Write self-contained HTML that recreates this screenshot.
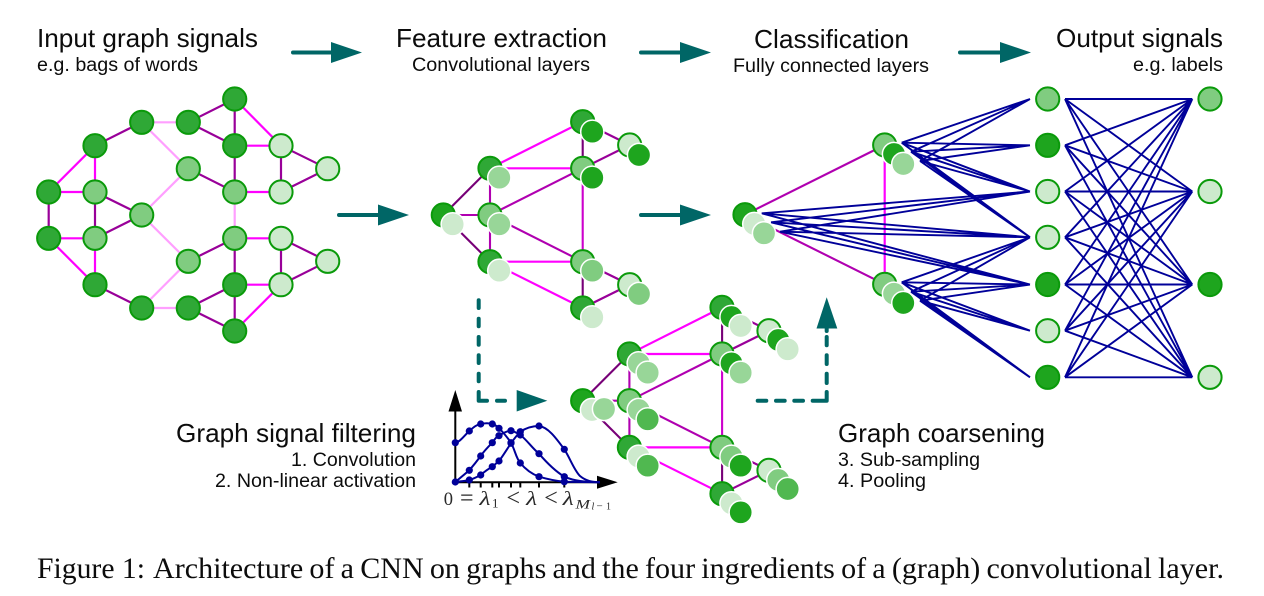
<!DOCTYPE html>
<html><head><meta charset="utf-8"><title>Graph CNN architecture</title>
<style>
html,body{margin:0;padding:0;background:#fff}
svg{display:block}
text{font-family:"Liberation Sans",sans-serif;fill:#0c0c0c}
.s{font-family:"Liberation Serif",serif}
.mt{font-family:"Liberation Serif",serif;fill:#2a2a2a}
.b{stroke:#0a9a0a;stroke-width:2}
.o{stroke:#fff;stroke-width:1.5}
.dk{fill:#2fa836}.dd{fill:#1ea51e}.md{fill:#80cc80}.lt{fill:#cdeacd}.m2{fill:#98d698}.g5{fill:#50b850}
.p{stroke:#990099;stroke-width:2.2;fill:none}
.mg{stroke:#ff00ff;stroke-width:2.2;fill:none}
.lp{stroke:#ff9fff;stroke-width:2.2;fill:none}
.pd{stroke:#770077;stroke-width:2.1;fill:none}
.pm{stroke:#b000b0;stroke-width:2.1;fill:none}
.pc{stroke:#cc00cc;stroke-width:2.1;fill:none}
.tl{stroke:#006666;stroke-width:4;fill:none;stroke-linecap:round}
.da{stroke:#006666;stroke-width:4;fill:none;stroke-linecap:round;stroke-linejoin:round}
.bl{stroke:#000099;stroke-width:1.9;fill:none}
.cv{stroke:#000099;stroke-width:2;fill:none;stroke-linejoin:round}
</style></head><body>
<svg xmlns="http://www.w3.org/2000/svg" width="1264" height="596" viewBox="0 0 1264 596">
<rect width="1264" height="596" fill="#fff"/>

<!-- titles -->
<text x="37" y="47" font-size="26" textLength="221" lengthAdjust="spacingAndGlyphs">Input graph signals</text>
<text x="37" y="71" font-size="19" textLength="161" lengthAdjust="spacingAndGlyphs">e.g. bags of words</text>
<text x="396" y="47" font-size="26" textLength="211" lengthAdjust="spacingAndGlyphs">Feature extraction</text>
<text x="412" y="71" font-size="19" textLength="178" lengthAdjust="spacingAndGlyphs">Convolutional layers</text>
<text x="754" y="48" font-size="26" textLength="155" lengthAdjust="spacingAndGlyphs">Classification</text>
<text x="733" y="72" font-size="19" textLength="196" lengthAdjust="spacingAndGlyphs">Fully connected layers</text>
<text x="1056" y="47" font-size="26" textLength="167" lengthAdjust="spacingAndGlyphs">Output signals</text>
<text x="1133" y="71" font-size="19" textLength="90" lengthAdjust="spacingAndGlyphs">e.g. labels</text>
<text x="176" y="442" font-size="26" textLength="240" lengthAdjust="spacingAndGlyphs">Graph signal filtering</text>
<text x="291" y="466" font-size="19" textLength="125" lengthAdjust="spacingAndGlyphs">1. Convolution</text>
<text x="215" y="487" font-size="19" textLength="201" lengthAdjust="spacingAndGlyphs">2. Non-linear activation</text>
<text x="838" y="442" font-size="26" textLength="207" lengthAdjust="spacingAndGlyphs">Graph coarsening</text>
<text x="838" y="466" font-size="19" textLength="142" lengthAdjust="spacingAndGlyphs">3. Sub-sampling</text>
<text x="838" y="487" font-size="19" textLength="88" lengthAdjust="spacingAndGlyphs">4. Pooling</text>
<text class="s" x="37" y="578" font-size="29.5" textLength="108" lengthAdjust="spacingAndGlyphs">Figure 1:</text>
<text class="s" x="153" y="578" font-size="29.5" word-spacing="-1.3" textLength="1071" lengthAdjust="spacingAndGlyphs">Architecture of a CNN on graphs and the four ingredients of a (graph) convolutional layer.</text>

<!-- teal arrows -->
<g>
<path class="tl" d="M293 52.5H335M641 52.5H683M960 52.5H1003M339 215H382M641 215H684"/>
<path fill="#006666" d="M331 42L362 52.5L331 63ZM680 42L711 52.5L680 63ZM1000 42L1031 52.5L1000 63ZM378 204.5L409 215L378 225.5ZM680 204.5L711 215L680 225.5Z"/>
<path class="da" d="M478.7 300.3V308M478.7 318.7V326.3M478.7 337V344.7M478.7 355.3V363M478.7 373.7V381.3M478.7 392V400.7H487M497 400.7H505"/>
<path fill="#006666" d="M516.7 390L547.3 400.7L516.7 411.5Z"/>
<path class="da" d="M757.7 400.7H766.3M776 400.7H784.7M794.3 400.7H803M812.7 400.7H826.7V392M826.7 383V373.7M826.7 364V355.3M826.7 345.3V337M826.7 328V331"/>
<path fill="#006666" d="M816.5 328.5L826.7 297.3L837.3 328.5Z"/>
</g>

<!-- input graph -->
<g>
<path class="lp" d="M141.7 122.3H188.3M141.7 122.3L188.3 168.7L141.7 215L188.3 261.3L141.7 308H188.3M234.7 192V238.3"/>
<path class="p" d="M95 145.7L141.7 122.3M188.3 122.3L234.7 99V145.7L188.3 122.3M188.3 168.7L234.7 192V145.7M281 145.7L327.7 168.7L281 192V145.7M48.7 192V238.3M95 192V238.3L141.7 215L95 192M95 284.7L141.7 308M188.3 261.3L234.7 238.3V284.7M281 238.3L327.7 261.3L281 284.7V238.3M188.3 308L234.7 284.7V331L188.3 308"/>
<path class="mg" d="M234.7 99L281 145.7H234.7M234.7 192H281M95 145.7L48.7 192H95V145.7M48.7 238.3H95V284.7L48.7 238.3M234.7 238.3H281M234.7 284.7H281L234.7 331"/>
<g class="b">
<circle class="dk" cx="234.7" cy="99" r="11.6"/><circle class="dk" cx="141.7" cy="122.3" r="11.6"/><circle class="dk" cx="188.3" cy="122.3" r="11.6"/>
<circle class="dk" cx="95" cy="145.7" r="11.6"/><circle class="dk" cx="234.7" cy="145.7" r="11.6"/><circle class="lt" cx="281" cy="145.7" r="11.6"/>
<circle class="md" cx="188.3" cy="168.7" r="11.6"/><circle class="lt" cx="327.7" cy="168.7" r="11.6"/>
<circle class="dk" cx="48.7" cy="192" r="11.6"/><circle class="md" cx="95" cy="192" r="11.6"/><circle class="md" cx="234.7" cy="192" r="11.6"/><circle class="lt" cx="281" cy="192" r="11.6"/>
<circle class="md" cx="141.7" cy="215" r="11.6"/>
<circle class="dk" cx="48.7" cy="238.3" r="11.6"/><circle class="md" cx="95" cy="238.3" r="11.6"/><circle class="md" cx="234.7" cy="238.3" r="11.6"/><circle class="lt" cx="281" cy="238.3" r="11.6"/>
<circle class="md" cx="188.3" cy="261.3" r="11.6"/><circle class="lt" cx="327.7" cy="261.3" r="11.6"/>
<circle class="dk" cx="95" cy="284.7" r="11.6"/><circle class="dk" cx="234.7" cy="284.7" r="11.6"/><circle class="lt" cx="281" cy="284.7" r="11.6"/>
<circle class="dk" cx="141.7" cy="308" r="11.6"/><circle class="dk" cx="188.3" cy="308" r="11.6"/><circle class="dk" cx="234.7" cy="331" r="11.6"/>
</g>
</g>

<!-- coarsened graph edges (shared) -->
<defs>
<g id="ce">
<path class="pd" d="M443.3 215L490 168.3M443.3 215L490 261.7M582.7 121.7V168.3M582.7 261.7V308"/>
<path class="pm" d="M443.3 215H490M490 168.3V261.7M490 215L582.7 168.3M490 215L582.7 261.7"/>
<path class="mg" d="M490 168.3L582.7 121.7M490 168.3H582.7M490 261.7H582.7M490 261.7L582.7 308"/>
<path class="pc" d="M582.7 168.3V261.7"/>
<path class="p" d="M582.7 121.7L629.7 145L582.7 168.3M582.7 261.7L629.7 284.7L582.7 308"/>
</g>
</defs>

<!-- feature extraction graph -->
<use href="#ce"/>
<g class="b">
<circle class="dk" cx="582.7" cy="121.7" r="11.6"/><circle class="lt" cx="629.7" cy="145" r="11.6"/>
<circle class="dk" cx="490" cy="168.3" r="11.6"/><circle class="md" cx="582.7" cy="168.3" r="11.6"/>
<circle class="dd" cx="443.3" cy="215" r="11.6"/><circle class="md" cx="490" cy="215" r="11.6"/>
<circle class="dk" cx="490" cy="261.7" r="11.6"/><circle class="md" cx="582.7" cy="261.7" r="11.6"/>
<circle class="lt" cx="629.7" cy="284.7" r="11.6"/><circle class="dk" cx="582.7" cy="308" r="11.6"/>
</g>
<g class="o">
<circle class="dd" cx="592.3" cy="131.7" r="11.6"/><circle class="dd" cx="639" cy="155" r="11.6"/>
<circle class="m2" cx="499.3" cy="177.7" r="11.6"/><circle class="dd" cx="592.3" cy="177.7" r="11.6"/>
<circle class="lt" cx="452.7" cy="224.3" r="11.6"/><circle class="m2" cx="499.3" cy="224.3" r="11.6"/>
<circle class="lt" cx="499.3" cy="270.7" r="11.6"/><circle class="md" cx="592.3" cy="270.7" r="11.6"/>
<circle class="md" cx="639" cy="294" r="11.6"/><circle class="lt" cx="592.3" cy="317.3" r="11.6"/>
</g>

<!-- pooled graph -->
<use href="#ce" x="139.4" y="185.7"/>
<g class="b">
<circle class="dk" cx="722" cy="307.4" r="11.6"/><circle class="lt" cx="769" cy="330.7" r="11.6"/>
<circle class="dk" cx="629.4" cy="354" r="11.6"/><circle class="md" cx="722" cy="354" r="11.6"/>
<circle class="dd" cx="582.7" cy="400.7" r="11.6"/><circle class="md" cx="629.4" cy="400.7" r="11.6"/>
<circle class="dk" cx="629.4" cy="447.4" r="11.6"/><circle class="md" cx="722" cy="447.4" r="11.6"/>
<circle class="lt" cx="769" cy="470.4" r="11.6"/><circle class="dk" cx="722" cy="493.7" r="11.6"/>
</g>
<g class="o">
<circle class="dd" cx="731.5" cy="317" r="11.6"/><circle class="lt" cx="740.7" cy="326" r="11.6"/>
<circle class="dd" cx="778.3" cy="340" r="11.6"/><circle class="lt" cx="787.7" cy="349.3" r="11.6"/>
<circle class="m2" cx="638.7" cy="363.3" r="11.6"/><circle class="m2" cx="647.7" cy="372.7" r="11.6"/>
<circle class="dd" cx="731.5" cy="363.3" r="11.6"/><circle class="m2" cx="740.7" cy="372.7" r="11.6"/>
<circle class="lt" cx="592" cy="410" r="11.6"/><circle class="m2" cx="604" cy="409" r="11.6"/>
<circle class="m2" cx="638.7" cy="410" r="11.6"/><circle class="g5" cx="647.7" cy="419.3" r="11.6"/>
<circle class="lt" cx="638.7" cy="456.7" r="11.6"/><circle class="g5" cx="647.7" cy="465.7" r="11.6"/>
<circle class="md" cx="731.5" cy="456.7" r="11.6"/><circle class="dd" cx="740.7" cy="465.7" r="11.6"/>
<circle class="md" cx="778.3" cy="480" r="11.6"/><circle class="g5" cx="787.7" cy="489" r="11.6"/>
<circle class="lt" cx="731.5" cy="503.3" r="11.6"/><circle class="dd" cx="740.7" cy="512.3" r="11.6"/>
</g>

<!-- classification nodes and edges -->
<path class="pm" d="M745 214.7L884.7 145M745 214.7L884.7 284.3"/>
<path class="mg" d="M884.7 145V284.3"/>
<path class="bl" d="
M901.7 142.7L1030 99M911 151.7L1030 99M920 161L1030 99
M901.7 142.7L1030 145.3M911 151.7L1030 145.3M920 161L1030 145.3
M901.7 142.7L1030 191.5M911 151.7L1030 191.5M920 161L1030 191.5
M901.7 142.7L1030 237.3M911 151.7L1030 237.3M920 161L1030 237.3
M761.7 213.3L1030 191.5M771 222.3L1030 191.5M780 231.7L1030 191.5
M761.7 213.3L1030 237.3M771 222.3L1030 237.3M780 231.7L1030 237.3
M761.7 213.3L1030 284.5M771 222.3L1030 284.5M780 231.7L1030 284.5
M901.7 282.3L1030 237.3M911 291.7L1030 237.3M920 300.7L1030 237.3
M901.7 282.3L1030 284.5M911 291.7L1030 284.5M920 300.7L1030 284.5
M901.7 282.3L1030 330.7M911 291.7L1030 330.7M920 300.7L1030 330.7
M901.7 282.3L1030 377.3M911 291.7L1030 377.3M920 300.7L1030 377.3"/>
<g class="b">
<circle class="dd" cx="745" cy="214.7" r="11.6"/><circle class="md" cx="884.7" cy="145" r="11.6"/><circle class="md" cx="884.7" cy="284.3" r="11.6"/>
</g>
<g class="o">
<circle class="lt" cx="754.3" cy="224" r="11.6"/><circle class="m2" cx="764" cy="233.3" r="11.6"/>
<circle class="dd" cx="894" cy="154" r="11.6"/><circle class="m2" cx="903.3" cy="164" r="11.6"/>
<circle class="m2" cx="894" cy="293.7" r="11.6"/><circle class="dd" cx="903.3" cy="303" r="11.6"/>
</g>

<!-- FC layer -->
<path class="bl" d="
M1065 99L1192.3 99M1065 99L1192.3 191.5M1065 99L1192.3 284.5M1065 99L1192.3 377.3
M1065 145.3L1192.3 99M1065 145.3L1192.3 191.5M1065 145.3L1192.3 284.5M1065 145.3L1192.3 377.3
M1065 191.5L1192.3 99M1065 191.5L1192.3 191.5M1065 191.5L1192.3 284.5M1065 191.5L1192.3 377.3
M1065 237.3L1192.3 99M1065 237.3L1192.3 191.5M1065 237.3L1192.3 284.5M1065 237.3L1192.3 377.3
M1065 284.5L1192.3 99M1065 284.5L1192.3 191.5M1065 284.5L1192.3 284.5M1065 284.5L1192.3 377.3
M1065 330.7L1192.3 99M1065 330.7L1192.3 191.5M1065 330.7L1192.3 284.5M1065 330.7L1192.3 377.3
M1065 377.3L1192.3 99M1065 377.3L1192.3 191.5M1065 377.3L1192.3 284.5M1065 377.3L1192.3 377.3"/>
<g class="b">
<circle class="md" cx="1047.7" cy="99" r="11.6"/><circle class="dd" cx="1047.7" cy="145.3" r="11.6"/><circle class="lt" cx="1047.7" cy="191.5" r="11.6"/>
<circle class="lt" cx="1047.7" cy="237.3" r="11.6"/><circle class="dd" cx="1047.7" cy="284.5" r="11.6"/><circle class="lt" cx="1047.7" cy="330.7" r="11.6"/><circle class="dd" cx="1047.7" cy="377.3" r="11.6"/>
<circle class="md" cx="1210" cy="99" r="11.6"/><circle class="lt" cx="1210" cy="191.5" r="11.6"/><circle class="dd" cx="1210" cy="284.5" r="11.6"/><circle class="lt" cx="1210" cy="377.3" r="11.6"/>
</g>

<!-- filter chart -->
<path stroke="#000" stroke-width="2" fill="none" d="M455.3 410V482.3H598M469.3 482V487.5M480.7 482V487.5M492.3 482V487.5M499 482V487.5M511 482V487.5M520.3 482V487.5M539 482V487.5M564.3 482V487.5"/>
<path fill="#000" d="M455.3 390L462 411.5H448.5ZM617.7 482.3L597 475.8V488.8Z"/>
<path class="cv" d="M455.3 442.7C460 442 464 436 469.3 431C474 427 476 425 480.7 424C485 423 489 423 492.3 424C495 425 497 426 499 428.3C503 432 507 437 511 442.7C515 450 516 458 520.3 463C526 470 532 474 539 476.7C547 479 555 481 564.3 481.7L600 482.3"/>
<path class="cv" d="M455.3 482L469.3 470.3C473 466 477 461 480.7 456C484 451 488 447 492.3 442.7C494 440 496 437 499 435.7C503 433 507 431 511 430.7C514 431 517 433 520.3 435C527 440 532 448 539 453.7C547 463 555 471 564.3 476.7C574 481 585 482 600 482.3"/>
<path class="cv" d="M455.3 482C460 481.5 465 481 469.3 480C473 479 477 477 480.7 475C484 472 488 469 492.3 466.7L499 461C503 456 507 449 511 443.3C514 439 517 435 520.3 431.7C526 428 532 426 539 426C548 427 556 438 564.3 449.3C570 458 574 470 580 476C586 481 592 482 600 482.3"/>
<g fill="#000099">
<circle cx="455.3" cy="442.7" r="3.6"/><circle cx="469.3" cy="431" r="3.6"/><circle cx="480.7" cy="424" r="3.6"/><circle cx="492.3" cy="424" r="3.6"/><circle cx="499" cy="428.3" r="3.6"/><circle cx="511" cy="442.7" r="3.6"/><circle cx="520.3" cy="463" r="3.6"/><circle cx="539" cy="476.7" r="3.6"/><circle cx="564.3" cy="481.7" r="3.6"/>
<circle cx="455.3" cy="482" r="3.6"/><circle cx="469.3" cy="470.3" r="3.6"/><circle cx="480.7" cy="456" r="3.6"/><circle cx="492.3" cy="442.7" r="3.6"/><circle cx="499" cy="435.7" r="3.6"/><circle cx="511" cy="430.7" r="3.6"/><circle cx="520.3" cy="435" r="3.6"/><circle cx="539" cy="453.7" r="3.6"/><circle cx="564.3" cy="476.7" r="3.6"/>
<circle cx="469.3" cy="480" r="3.6"/><circle cx="480.7" cy="475" r="3.6"/><circle cx="492.3" cy="466.7" r="3.6"/><circle cx="499" cy="461" r="3.6"/><circle cx="511" cy="443.3" r="3.6"/><circle cx="520.3" cy="431.7" r="3.6"/><circle cx="539" cy="426" r="3.6"/><circle cx="564.3" cy="449.3" r="3.6"/>
</g>
<text class="mt" x="443.8" y="505" font-size="18.5">0</text>
<text class="mt" x="460" y="505.5" font-size="24">=</text>
<text class="mt" x="479.5" y="505" font-size="20" font-style="italic" textLength="11" lengthAdjust="spacingAndGlyphs">λ</text>
<text class="mt" x="492" y="507.5" font-size="13">1</text>
<text class="mt" x="506.5" y="505.5" font-size="24">&lt;</text>
<text class="mt" x="526.2" y="505" font-size="20" font-style="italic" textLength="11" lengthAdjust="spacingAndGlyphs">λ</text>
<text class="mt" x="544.2" y="505.5" font-size="24">&lt;</text>
<text class="mt" x="562.8" y="505" font-size="20" font-style="italic" textLength="11" lengthAdjust="spacingAndGlyphs">λ</text>
<text class="mt" x="575.5" y="508.5" font-size="13" font-style="italic" textLength="14.5" lengthAdjust="spacingAndGlyphs">M</text>
<text class="mt" x="591.5" y="509.5" font-size="10" font-style="italic">l</text>
<text class="mt" x="596.5" y="509.5" font-size="11">−</text>
<text class="mt" x="606" y="509.5" font-size="10">1</text>
</svg>
</body></html>
